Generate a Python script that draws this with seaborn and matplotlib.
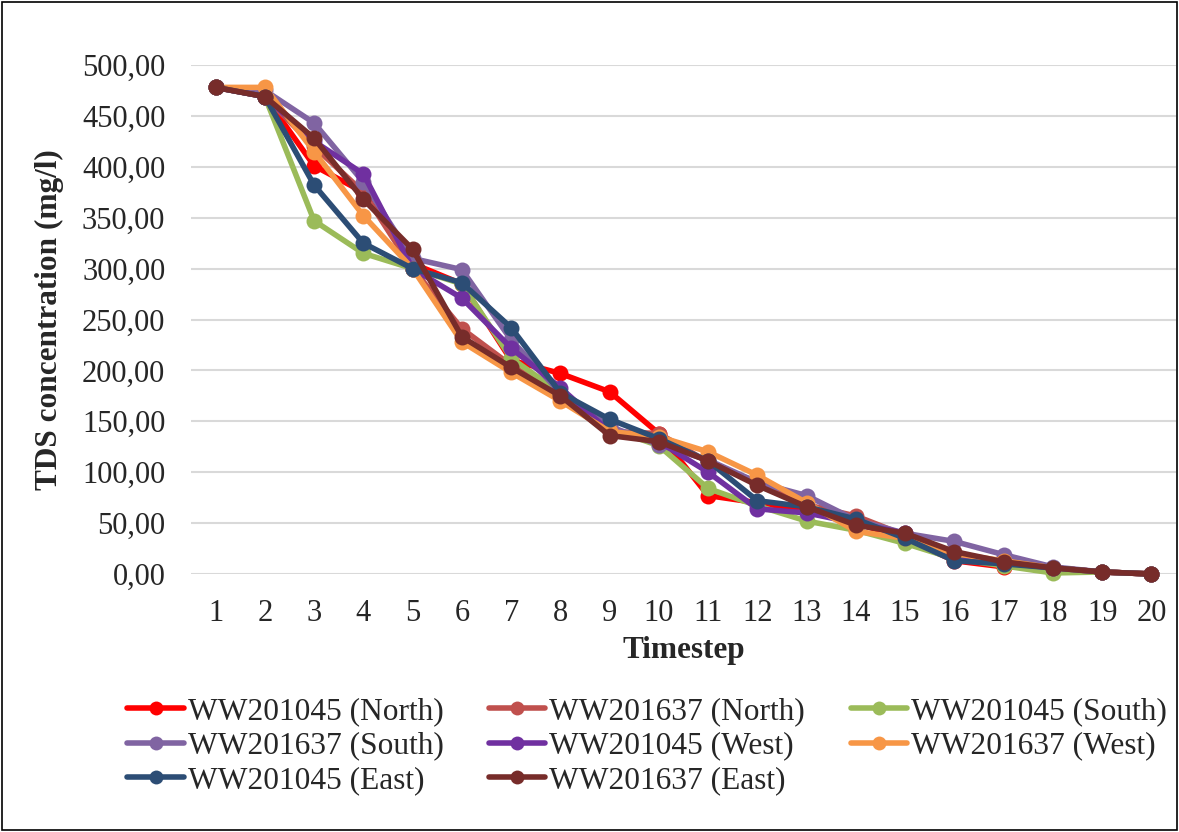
import numpy as np
import pandas as pd
import matplotlib
matplotlib.use("Agg")
import matplotlib.pyplot as plt
from matplotlib.patches import Rectangle
import seaborn as sns

timesteps = list(range(1, 21))

north_045 = [478, 469, 401, 375, 305, 285, 210, 197, 179, 138, 77, 70, 62, 50, 35, 13, 7, 6, 2, 0]
north_637 = [478, 469, 420, 375, 300, 241, 205, 175, 140, 138, 110, 90, 68, 57, 38, 20, 12, 6, 2, 0]
south_045 = [478, 469, 347, 315, 300, 285, 212, 178, 143, 126, 84, 67, 52, 43, 30, 15, 8, 1, 2, 0]
south_637 = [478, 475, 443, 385, 310, 299, 230, 178, 145, 127, 112, 90, 77, 53, 40, 32, 19, 7, 2, 0]
west_045 = [478, 469, 425, 393, 300, 271, 222, 183, 140, 130, 100, 64, 60, 50, 40, 18, 11, 6, 2, 0]
west_637 = [478, 478, 415, 352, 300, 228, 198, 170, 140, 135, 120, 97, 70, 42, 35, 20, 13, 6, 2, 0]
east_045 = [478, 469, 382, 325, 300, 286, 242, 178, 152, 133, 111, 72, 66, 54, 35, 13, 10, 6, 2, 0]
east_637 = [478, 469, 428, 368, 319, 233, 203, 175, 136, 130, 111, 87, 66, 48, 40, 22, 12, 6, 2, 0]

series_names = [
    "WW201045 (North)", "WW201637 (North)", "WW201045 (South)",
    "WW201637 (South)", "WW201045 (West)", "WW201637 (West)",
    "WW201045 (East)", "WW201637 (East)",
]
series_values = [north_045, north_637, south_045, south_637,
                 west_045, west_637, east_045, east_637]
series_colors = ["#FF0000", "#C0504D", "#9BBB59", "#8064A2",
                 "#7030A0", "#F79646", "#2C4D75", "#772C2A"]

df = pd.DataFrame({
    "Timestep": np.tile(timesteps, len(series_names)),
    "TDS": np.concatenate(series_values),
    "Series": np.repeat(series_names, len(timesteps)),
})

sns.set_theme(style="white")
plt.rcParams["font.family"] = ["Liberation Serif", "DejaVu Serif"]

fig = plt.figure(figsize=(11.79, 8.32), dpi=100)
ax = fig.add_axes([191 / 1179, 1 - 574 / 832, 985 / 1179, 509 / 832])

sns.lineplot(
    data=df, x="Timestep", y="TDS", hue="Series", hue_order=series_names,
    palette=dict(zip(series_names, series_colors)), marker="o",
    markersize=11.5, markeredgewidth=0, linewidth=4, ax=ax, clip_on=False,
    legend=True,
)

ax.set_xlim(0.5, 20.5)
ax.set_ylim(0, 500)
ax.set_xticks(timesteps)
ax.set_xticklabels([str(t) for t in timesteps], fontsize=22)
yt = np.arange(0, 501, 50)
ax.set_yticks(yt)
ax.set_yticklabels([f"{v:.2f}".replace(".", ",") for v in yt], fontsize=22)
ax.yaxis.grid(True, color="#D9D9D9", linewidth=1.5)
ax.set_axisbelow(True)
for s in ax.spines.values():
    s.set_visible(False)
ax.tick_params(axis="x", length=0, pad=18)
ax.tick_params(axis="y", length=0, pad=18.5)

ax.set_xlabel("Timestep", fontsize=22.5, fontweight="bold", labelpad=6)
ax.set_ylabel("TDS concentration (mg/l)", fontsize=22.5, fontweight="bold", labelpad=13)

# legend filled row by row across three columns
handles, labels = ax.get_legend_handles_labels()
ax.legend_.remove()
order = [0, 3, 6, 1, 4, 7, 2, 5]
leg = fig.legend(
    [handles[i] for i in order], [labels[i] for i in order],
    loc="center", bbox_to_anchor=(647 / 1179, 1 - 746 / 832),
    ncol=3, frameon=False, fontsize=22.6, handlelength=1.8, handletextpad=0.12,
    columnspacing=1.45, labelspacing=0.18, borderaxespad=0, borderpad=0,
)
for h in leg.legend_handles:
    h.set_linewidth(4)
    h.set_markersize(10)

fig.patches.append(Rectangle((0.002, 0.002), 0.996, 0.996, transform=fig.transFigure,
                             fill=False, edgecolor="black", linewidth=1.2))

fig.savefig("out.png", dpi=100)
